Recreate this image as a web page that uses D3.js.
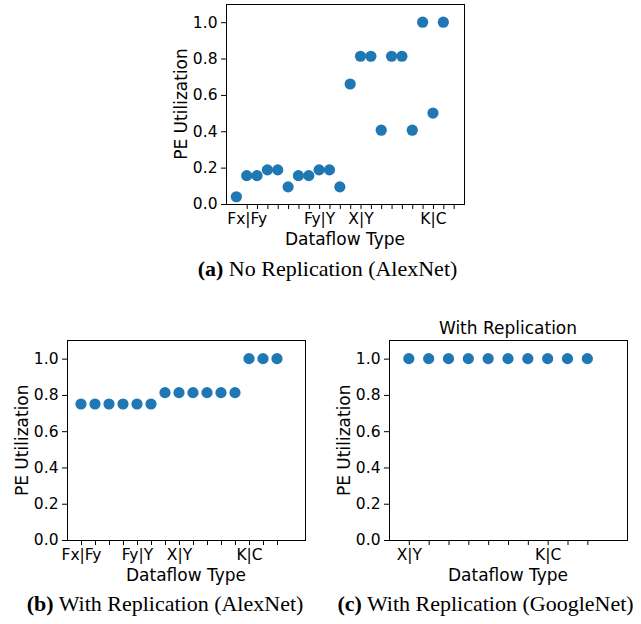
<!DOCTYPE html>
<html>
<head>
<meta charset="utf-8">
<script src="https://cdn.jsdelivr.net/npm/d3@7"></script>
<style>
  html, body { margin: 0; padding: 0; background: #fff; }
  svg { display: block; }
  .tick text { font-family: "DejaVu Sans", sans-serif; fill: #000; }
  .caption { font-family: "Liberation Serif", "Times New Roman", serif; fill: #000; }
</style>
</head>
<body>
<svg id="fig" width="641" height="624"></svg>
<script>
// PE utilization per dataflow configuration
const alexnetNoReplication = [0.04, 0.156, 0.156, 0.1875, 0.1875, 0.094, 0.156, 0.156, 0.1875, 0.1875,
                              0.094, 0.66, 0.8125, 0.8125, 0.406, 0.8125, 0.8125, 0.406, 1.0, 0.5, 1.0];
const alexnetReplication = [0.75, 0.75, 0.75, 0.75, 0.75, 0.75,
                            0.8125, 0.8125, 0.8125, 0.8125, 0.8125, 0.8125,
                            1.0, 1.0, 1.0];
const googlenetReplication = [1.0, 1.0, 1.0, 1.0, 1.0, 1.0, 1.0, 1.0, 1.0, 1.0];

// x tick labels, one entry per tick (blank = unlabeled tick)
const noReplTickLabels = ["Fx|Fy", "", "", "", "", "", "", "Fy|Y", "", "", "", "X|Y", "", "", "", "", "", "", "K|C", "", ""];
const alexReplTickLabels = ["Fx|Fy", "", "", "", "Fy|Y", "", "", "X|Y", "", "", "", "", "K|C", "", ""];
const googleReplTickLabels = ["X|Y", "", "", "", "", "", "", "K|C", "", ""];

// first tick position of each x axis
const noReplTickStart = 1;
const alexReplTickStart = 0;
const googleReplTickStart = 0;

const yTicks = [0.0, 0.2, 0.4, 0.6, 0.8, 1.0];

const svg = d3.select("#fig");
svg.append("rect").attr("width", 641).attr("height", 624).attr("fill", "#fff");

const panels = [
  { values: alexnetNoReplication, labels: noReplTickLabels, tickStart: noReplTickStart,
    left: 226, top: 4, width: 238, height: 200, title: null,
    caption: ["(a)", " No Replication (AlexNet)"], capX: 327.5, capY: 275.5 },
  { values: alexnetReplication, labels: alexReplTickLabels, tickStart: alexReplTickStart,
    left: 67, top: 340.5, width: 238, height: 199.5, title: null,
    caption: ["(b)", " With Replication (AlexNet)"], capX: 165, capY: 610.5 },
  { values: googlenetReplication, labels: googleReplTickLabels, tickStart: googleReplTickStart,
    left: 389, top: 340.5, width: 238, height: 199.5, title: "With Replication",
    caption: ["(c)", " With Replication (GoogleNet)"], capX: 485.5, capY: 610.5 }
];

panels.forEach(p => {
  const g = svg.append("g").attr("transform", `translate(${p.left},${p.top})`);

  const x = d3.scaleLinear().domain([-1, p.values.length + 1]).range([0, p.width]);
  const y = d3.scaleLinear().domain([0, 1.1]).range([p.height, 0]);

  const tickVals = p.labels.map((_, i) => i + p.tickStart);

  // x axis
  const xAxis = d3.axisBottom(x)
    .tickValues(tickVals)
    .tickFormat((d, i) => p.labels[i])
    .tickSize(5)
    .tickPadding(3.5);
  const gx = g.append("g").attr("transform", `translate(0,${p.height})`).call(xAxis);
  gx.select(".domain").remove();
  gx.selectAll(".tick line").attr("stroke", "#000");
  gx.selectAll(".tick text").attr("font-size", 15.5);

  // y axis
  const yAxis = d3.axisLeft(y)
    .tickValues(yTicks)
    .tickFormat(d3.format(".1f"))
    .tickSize(5)
    .tickPadding(3.5);
  const gy = g.append("g").call(yAxis);
  gy.select(".domain").remove();
  gy.selectAll(".tick line").attr("stroke", "#000");
  gy.selectAll(".tick text").attr("font-size", 15.5);

  // axes frame
  g.append("rect")
    .attr("x", 0).attr("y", 0)
    .attr("width", p.width).attr("height", p.height)
    .attr("fill", "none").attr("stroke", "#000").attr("stroke-width", 1)
    .attr("shape-rendering", "crispEdges");

  // points
  g.selectAll("circle.pt")
    .data(p.values)
    .join("circle")
    .attr("class", "pt")
    .attr("cx", (d, i) => x(i))
    .attr("cy", d => y(d))
    .attr("r", 5.6)
    .attr("fill", "#1f77b4");

  // axis labels
  g.append("text")
    .attr("x", p.width / 2).attr("y", p.height + 40.5)
    .attr("text-anchor", "middle")
    .attr("font-family", "DejaVu Sans, sans-serif")
    .attr("font-size", 17)
    .text("Dataflow Type");

  g.append("text")
    .attr("transform", `translate(-39,${p.height / 2}) rotate(-90)`)
    .attr("text-anchor", "middle")
    .attr("font-family", "DejaVu Sans, sans-serif")
    .attr("font-size", 17)
    .text("PE Utilization");

  if (p.title) {
    g.append("text")
      .attr("x", p.width / 2).attr("y", -6.5)
      .attr("text-anchor", "middle")
      .attr("font-family", "DejaVu Sans, sans-serif")
      .attr("font-size", 17)
      .text(p.title);
  }

  // subfigure caption
  const cap = svg.append("text")
    .attr("class", "caption")
    .attr("x", p.capX).attr("y", p.capY)
    .attr("text-anchor", "middle")
    .attr("font-size", 22);
  cap.append("tspan").attr("font-weight", "bold").text(p.caption[0]);
  cap.append("tspan").text(p.caption[1]);
});
</script>
</body>
</html>
